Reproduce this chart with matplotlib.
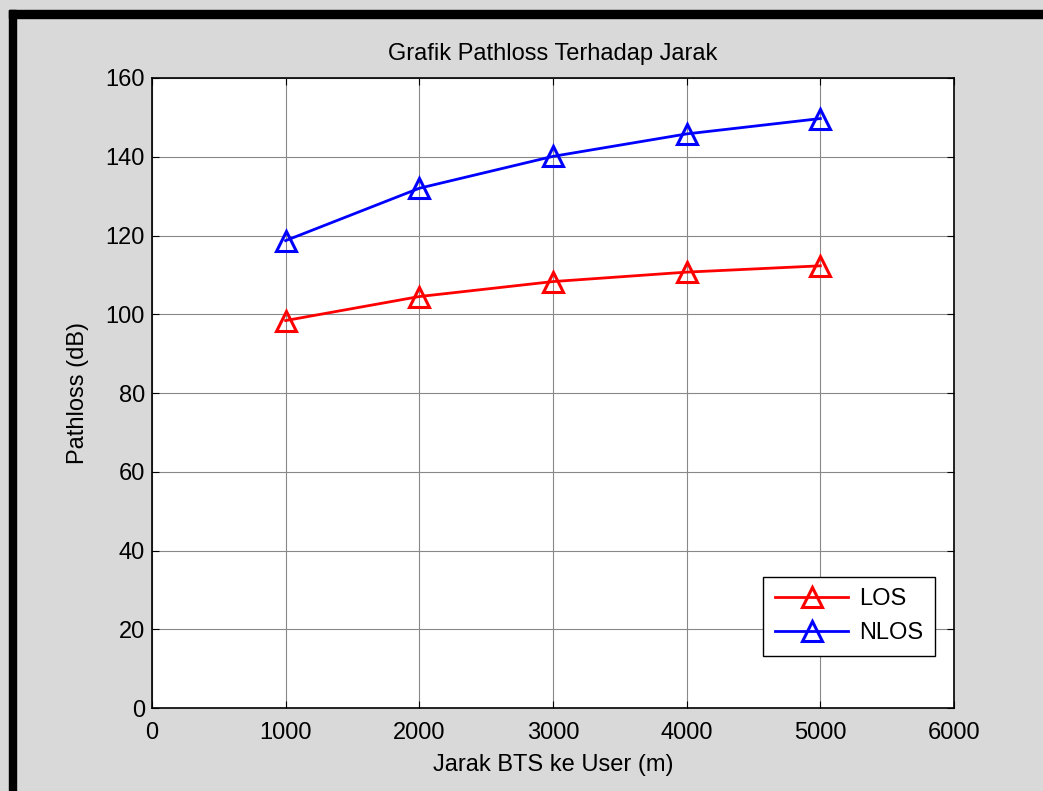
import numpy as np
import matplotlib.pyplot as plt
from matplotlib.patches import Rectangle

plt.rcParams['font.family'] = ['Liberation Sans', 'DejaVu Sans']

# data
jarak = [1000, 2000, 3000, 4000, 5000]
los = [98.4, 104.5, 108.3, 110.7, 112.3]
nlos = [118.7, 132.0, 140.1, 145.8, 149.7]

fig = plt.figure(figsize=(10.43, 7.91), dpi=100, facecolor='#d9d9d9')
ax = fig.add_axes([0.1457, 0.1049, 0.769, 0.7965])

ax.plot(jarak, los, color='#ff0000', lw=2.0, marker='^', ms=14, mfc='none', mew=2.2, label='LOS')
ax.plot(jarak, nlos, color='#0000ff', lw=2.0, marker='^', ms=14, mfc='none', mew=2.2, label='NLOS')

ax.set_xlim(0, 6000)
ax.set_ylim(0, 160)
ax.set_xticks(np.arange(0, 6001, 1000))
ax.set_yticks(np.arange(0, 161, 20))
ax.grid(True, color='#888888', lw=0.8)
ax.tick_params(direction='in', top=True, right=True, labelsize=17, length=5)
ax.tick_params(axis='x', pad=10)
ax.tick_params(axis='y', pad=5)
for s in ax.spines.values():
    s.set_linewidth(1.2)

ax.set_title('Grafik Pathloss Terhadap Jarak', fontsize=17, pad=13)
ax.set_xlabel('Jarak BTS ke User (m)', fontsize=17, labelpad=7)
ax.set_ylabel('Pathloss (dB)', fontsize=17, labelpad=12)

leg = ax.legend(loc='lower right', bbox_to_anchor=(0.976, 0.0825), borderaxespad=0,
                fontsize=17, fancybox=False, edgecolor='black', framealpha=1,
                handlelength=3.1, handletextpad=0.45, borderpad=0.5, labelspacing=0.5)
leg.get_frame().set_linewidth(1.0)

# black frame on top and left of the screenshot
fig.add_artist(Rectangle((9 / 1043, 0), 7 / 1043, 1 - 10 / 791, transform=fig.transFigure, color='black', zorder=10))
fig.add_artist(Rectangle((9 / 1043, 1 - 18 / 791), 1, 8 / 791, transform=fig.transFigure, color='black', zorder=10))

fig.savefig('out.png', dpi=100, facecolor=fig.get_facecolor())
